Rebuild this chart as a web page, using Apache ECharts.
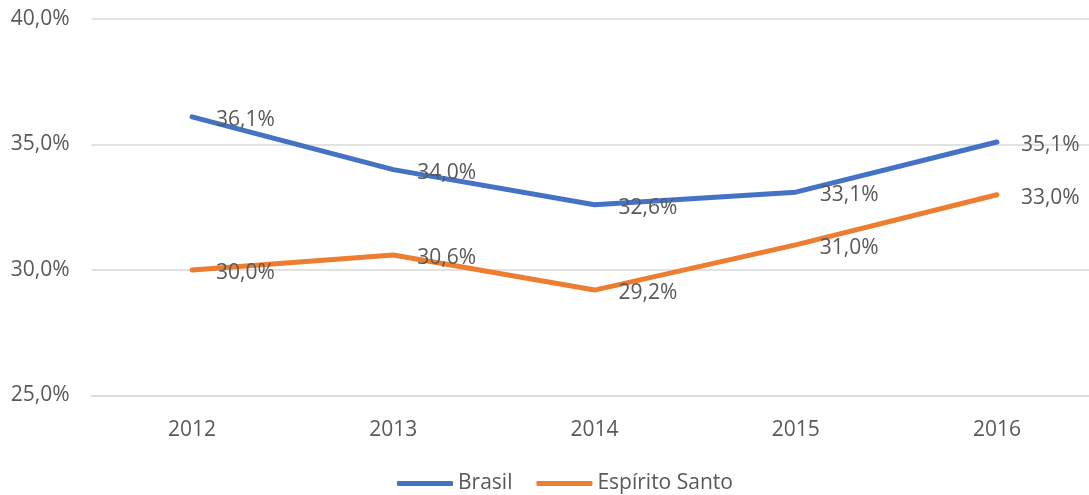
<!DOCTYPE html>
<html><head><meta charset="utf-8">
<script src="https://cdn.jsdelivr.net/npm/echarts@6/dist/echarts.min.js"></script>
<style>html,body{margin:0;padding:0;background:#fff}#c{width:1089px;height:495px}</style>
</head><body><div id="c"></div>
<script>
var categories = ['2012','2013','2014','2015','2016'];
var brasil = [36.1, 34.0, 32.6, 33.1, 35.1];
var espiritoSanto = [30.0, 30.6, 29.2, 31.0, 33.0];
var yTicks = {min: 25, max: 40, interval: 5};

var FONT = 'Open Sans';
var TXT = '#595959';
var FS = 21;
function pct(v){ return v.toFixed(1).replace('.', ',') + '%'; }
function mkSeries(name, data, color){
  return {
    name: name, type: 'line', data: data, showSymbol: true, symbol: 'circle', symbolSize: 0.01,
    lineStyle: {width: 5, color: color, cap: 'round', join: 'round'},
    itemStyle: {color: color},
    label: {show: true, position: 'right', distance: 24, color: TXT, fontFamily: FONT, fontSize: FS,
      formatter: function(p){ return pct(p.value); }},
    labelLayout: {hideOverlap: false, dy: 3},
    animation: false
  };
}
var chart = echarts.init(document.getElementById('c'), null, {renderer: 'canvas'});
chart.setOption({
  animation: false,
  grid: {left: 91.5, width: 1006, top: 19, bottom: 99.5, containLabel: false, outerBoundsMode: 'none'},
  legend: {
    top: 473, left: 397, padding: 0, itemWidth: 56, itemHeight: 5, itemGap: 24, icon: 'roundRect',
    textStyle: {color: TXT, fontFamily: FONT, fontSize: FS},
    data: ['Brasil', 'Espírito Santo']
  },
  xAxis: {
    type: 'category', data: categories, boundaryGap: true,
    axisLine: {lineStyle: {color: '#d9d9d9', width: 1.5}}, axisTick: {show: false},
    axisLabel: {color: TXT, fontFamily: FONT, fontSize: FS, margin: 24}
  },
  yAxis: {
    type: 'value', min: yTicks.min, max: yTicks.max, interval: yTicks.interval,
    axisLine: {show: false}, axisTick: {show: false},
    splitLine: {lineStyle: {color: '#d9d9d9', width: 1.5}},
    axisLabel: {color: TXT, fontFamily: FONT, fontSize: FS, margin: 22,
      formatter: function(v){ return pct(v); }}
  },
  series: [mkSeries('Brasil', brasil, '#4472C4'), mkSeries('Espírito Santo', espiritoSanto, '#ED7D31')]
});
</script></body></html>
